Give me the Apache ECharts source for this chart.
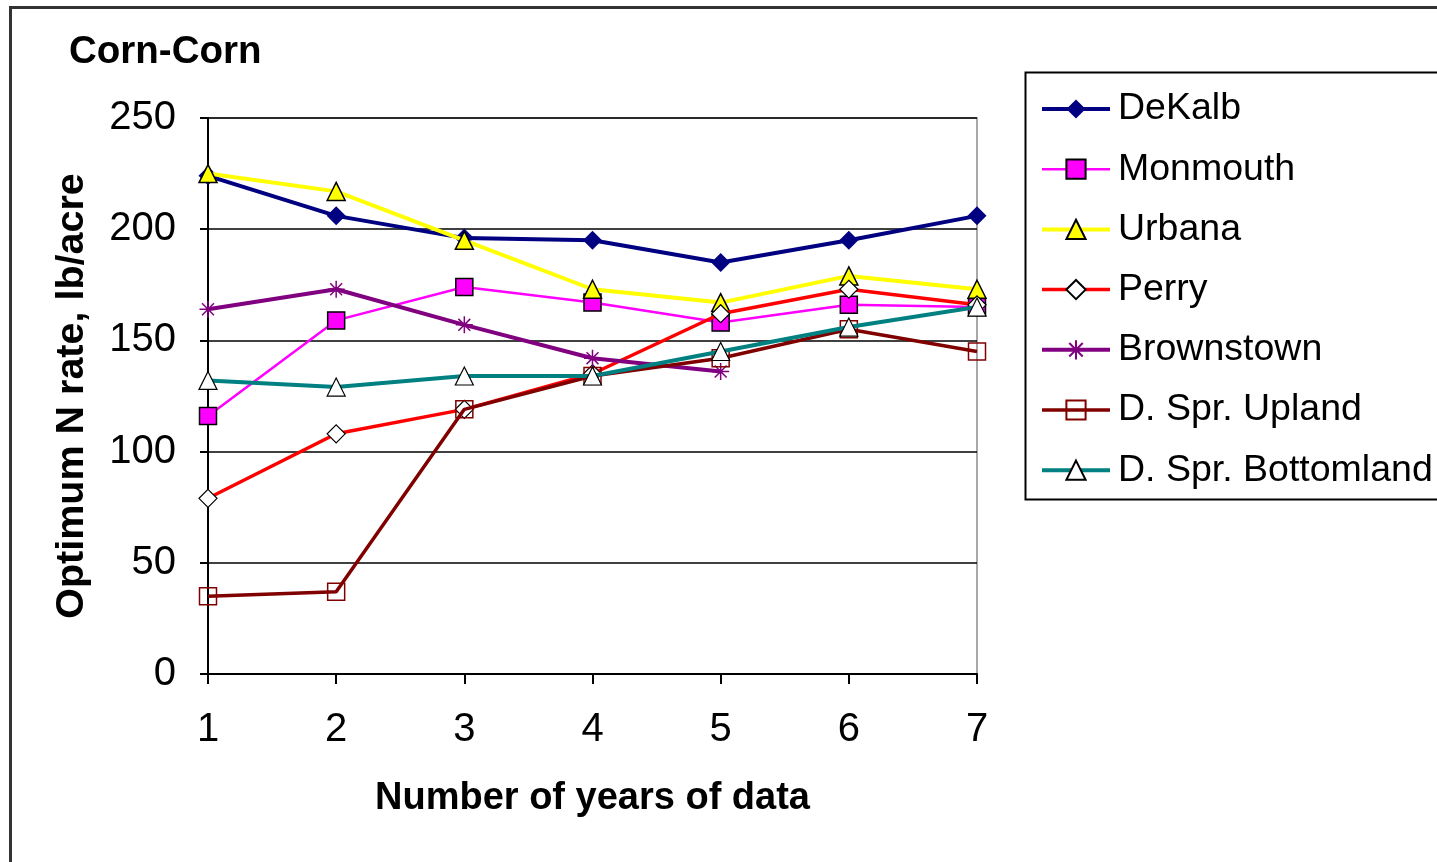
<!DOCTYPE html>
<html>
<head>
<meta charset="utf-8">
<title>Corn-Corn</title>
<script src="https://cdn.jsdelivr.net/npm/echarts@6/dist/echarts.min.js"></script>
<style>
  html, body { margin: 0; padding: 0; background: #ffffff; }
  #chart { width: 1437px; height: 862px; }
</style>
</head>
<body>
<div id="chart"></div>
<script>
// Years of data (x) and optimum N rate per site (lb/acre)
const years = [1, 2, 3, 4, 5, 6, 7];
const yTicks = [0, 50, 100, 150, 200, 250];

const dekalb     = [224, 206, 196, 195, 185, 195, 206];
const monmouth   = [116, 159, 174, 167, 158, 166, 165];
const urbana     = [225, 217, 195, 173, 167, 179, 173];
const perry      = [79, 108, 119, 135, 162, 173, 166];
const brownstown = [164, 173, 157, 142, 136];
const upland     = [35, 37, 119, 134, 142, 155, 145];
const bottomland = [132, 129, 134, 134, 145, 156, 165];

const FONT = '"Liberation Sans", Arial, sans-serif';

function pairs(vals) {
  return vals.map((v, i) => [years[i], v]);
}

const asterisk = 'path://M5,0L5,10M0,5L10,5M1.5,1.5L8.5,8.5M8.5,1.5L1.5,8.5';

const seriesDefs = [
  { name: 'DeKalb', data: dekalb, line: '#000080', width: 4,
    symbol: 'diamond', size: 19, fill: '#000080', border: '#000080', bw: 0 },
  { name: 'Monmouth', data: monmouth, line: '#ff00ff', width: 2.5,
    symbol: 'rect', size: 17, fill: '#ff00ff', border: '#000000', bw: 1.5 },
  { name: 'Urbana', data: urbana, line: '#ffff00', width: 4,
    symbol: 'triangle', size: 18, fill: '#ffff00', border: '#000000', bw: 1.5 },
  { name: 'Perry', data: perry, line: '#ff0000', width: 3.5,
    symbol: 'diamond', size: 18, fill: '#ffffff', border: '#000000', bw: 1.2 },
  { name: 'Brownstown', data: brownstown, line: '#800080', width: 4,
    symbol: asterisk, size: 17, fill: 'none', border: '#800080', bw: 1.5 },
  { name: 'D. Spr. Upland', data: upland, line: '#800000', width: 3.5,
    symbol: 'rect', size: 17, fill: 'rgba(255,255,255,0)', border: '#800000', bw: 1.5 },
  { name: 'D. Spr. Bottomland', data: bottomland, line: '#008080', width: 4,
    symbol: 'triangle', size: 18, fill: '#ffffff', border: '#000000', bw: 1.2 }
];

const chart = echarts.init(document.getElementById('chart'), null, { renderer: 'canvas' });

chart.setOption({
  backgroundColor: '#ffffff',
  animation: false,
  textStyle: { fontFamily: FONT, color: '#000000' },
  title: {
    text: 'Corn-Corn',
    left: 64,
    top: 28,
    textStyle: { fontFamily: FONT, fontSize: 38.5, fontWeight: 'bold', color: '#000000' }
  },
  graphic: [
    {
      type: 'rect', z: -10, silent: true,
      shape: { x: 10.5, y: 7.5, width: 1500, height: 900 },
      style: { fill: '#ffffff', stroke: '#333333', lineWidth: 3 }
    },
    {
      type: 'rect', z: -5, silent: true,
      shape: { x: 1025.5, y: 72.5, width: 500, height: 427 },
      style: { fill: '#ffffff', stroke: '#000000', lineWidth: 2 }
    }
  ],
  legend: {
    orient: 'vertical',
    left: 1040,
    top: 90,
    itemWidth: 68,
    itemHeight: 24,
    itemGap: 22.2,
    padding: 0,
    textStyle: { fontFamily: FONT, fontSize: 37.5, color: '#000000', padding: [0, 0, 0, 3] },
    data: seriesDefs.map(s => ({
      name: s.name,
      lineStyle: { color: s.line, width: s.width }
    }))
  },
  grid: {
    left: 208, top: 118, right: 460, bottom: 188,
    show: true, borderColor: '#8c8c8c', borderWidth: 1.5, backgroundColor: '#ffffff'
  },
  xAxis: {
    type: 'value',
    min: 1, max: 7, interval: 1,
    name: 'Number of years of data',
    nameLocation: 'middle',
    nameGap: 106,
    nameTextStyle: { fontFamily: FONT, fontSize: 38, fontWeight: 'bold', color: '#000000' },
    axisLine: { show: true, onZero: false, lineStyle: { color: '#000000', width: 2 } },
    axisTick: { show: true, length: 10, lineStyle: { color: '#000000', width: 2 } },
    axisLabel: {
      fontFamily: FONT, fontSize: 40, color: '#000000', margin: 36,
      formatter: v => String(v)
    },
    splitLine: { show: false }
  },
  yAxis: {
    type: 'value',
    min: 0, max: 250, interval: 50,
    name: 'Optimum N rate, lb/acre',
    nameLocation: 'middle',
    nameGap: 116,
    nameRotate: 90,
    nameTextStyle: { fontFamily: FONT, fontSize: 39.5, fontWeight: 'bold', color: '#000000' },
    axisLine: { show: true, lineStyle: { color: '#000000', width: 2 } },
    axisTick: { show: true, length: 8, lineStyle: { color: '#000000', width: 2 } },
    axisLabel: {
      fontFamily: FONT, fontSize: 40, color: '#000000', margin: 32,
      formatter: v => (yTicks.indexOf(v) >= 0 ? String(v) : '')
    },
    splitLine: { show: true, lineStyle: { color: '#000000', width: 1.5 } }
  },
  series: seriesDefs.map((s, i) => ({
    name: s.name,
    type: 'line',
    data: pairs(s.data),
    z: 2 + i,
    symbol: s.symbol,
    symbolSize: s.size,
    showAllSymbol: true,
    lineStyle: { color: s.line, width: s.width },
    itemStyle: { color: s.fill, borderColor: s.border, borderWidth: s.bw },
    emphasis: { disabled: true }
  }))
});
</script>
</body>
</html>
